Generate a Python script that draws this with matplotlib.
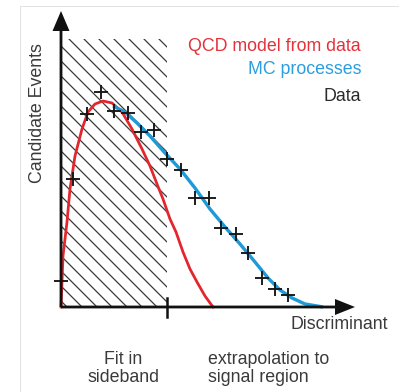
import numpy as np
import matplotlib.pyplot as plt
from matplotlib.patches import Rectangle

plt.rcParams['font.family'] = ['Liberation Sans', 'DejaVu Sans']
plt.rcParams['hatch.linewidth'] = 1.0

# measured data (crosses)
data_x = [0.0, 1.2, 2.6, 4.0, 5.3, 6.7, 8.0, 9.3, 10.6, 12.0, 13.4, 14.8,
          16.0, 17.5, 18.7, 20.1, 21.4, 22.7]
data_y = [2.6, 12.8, 19.3, 21.5, 19.6, 19.4, 17.5, 17.7, 14.8, 13.7, 10.9, 10.9,
          7.9, 7.3, 5.4, 2.9, 1.8, 1.2]

# QCD model from data (red)
qcd_x = [0.0, 0.1, 0.2, 0.6, 0.9, 1.4, 2.1, 2.7, 3.4, 4.2, 5.1, 6.1, 7.1, 8.1,
         8.9, 9.6, 10.2, 10.9, 11.5, 12.2, 12.9, 13.6, 14.4, 15.2]
qcd_y = [0.0, 2.5, 5.1, 8.5, 11.8, 15.1, 17.8, 19.5, 20.3, 20.6, 20.4, 19.5, 17.8, 15.8,
         14.1, 12.3, 10.8, 8.8, 7.5, 5.5, 3.8, 2.5, 1.1, 0.0]

# MC processes (blue)
mc_x = [5.2, 6.4, 7.6, 8.9, 10.4, 11.9, 13.4, 14.9, 16.4, 17.9, 19.4, 20.7,
        21.9, 23.1, 24.4, 26.2]
mc_y = [20.1, 19.5, 18.4, 17.1, 15.4, 13.8, 11.9, 9.8, 8.0, 6.3, 4.5, 2.9,
        1.7, 0.9, 0.3, 0.0]

sideband_edge = 10.6
sideband_top = 26.8
x_axis_end = 29.4
y_axis_end = 29.6

DPI = 90
fig = plt.figure(figsize=(399 / DPI, 393 / DPI), dpi=DPI)
ax = fig.add_axes([0, 0, 1, 1])
ax.set_xlim(-6.1, 33.8)
ax.set_ylim(-8.5, 30.8)
ax.axis('off')

# light frame of the original picture
ax.plot([-4.1, -4.1, 33.8], [-8.5, 30.1, 30.1], color='#e2e2e2', lw=0.8)

# hatched sideband region
ax.add_patch(Rectangle((0, 0), sideband_edge, sideband_top, fill=False,
                       hatch='\\\\', edgecolor='#3a3a3a', linewidth=0, zorder=1))

ax.plot(qcd_x, qcd_y, color='#e3262e', lw=2.2, zorder=3)
ax.plot(mc_x, mc_y, color='#1f9ad8', lw=2.7, zorder=3, solid_capstyle='butt')
ax.plot(data_x, data_y, '+', ms=11, mew=1.5, color='#151515', zorder=4)

# axes with arrows
ax.arrow(0, 0, 0, y_axis_end, width=0.28, head_width=1.7, head_length=2.0,
         length_includes_head=True, fc='#111111', ec='none', zorder=5)
ax.arrow(0, 0, x_axis_end, 0, width=0.28, head_width=1.6, head_length=2.0,
         length_includes_head=True, fc='#111111', ec='none', zorder=5)
ax.plot([sideband_edge, sideband_edge], [-1.0, 0.9], color='#111111', lw=2.0, zorder=5)

fs = 14.2
ax.text(30.0, 26.15, 'QCD model from data', color='#e3313a', fontsize=fs,
        ha='right', va='center')
ax.text(30.0, 23.8, 'MC processes', color='#2a9edf', fontsize=fs,
        ha='right', va='center')
ax.text(30.0, 21.1, 'Data', color='#2a2a2a', fontsize=fs, ha='right', va='center')
ax.text(-2.3, 19.5, 'Candidate Events', color='#3a3a3a', fontsize=fs,
        rotation=90, ha='center', va='center')
ax.text(22.9, -1.7, 'Discriminant', color='#3a3a3a', fontsize=fs,
        ha='left', va='center')
ax.text(6.2, -6.05, 'Fit in\nsideband', color='#3a3a3a', fontsize=fs,
        ha='center', va='center', multialignment='center', linespacing=1.12)
ax.text(14.7, -6.05, 'extrapolation to\nsignal region', color='#3a3a3a', fontsize=fs,
        ha='left', va='center', multialignment='left', linespacing=1.12)

fig.savefig('out.png', dpi=DPI)
